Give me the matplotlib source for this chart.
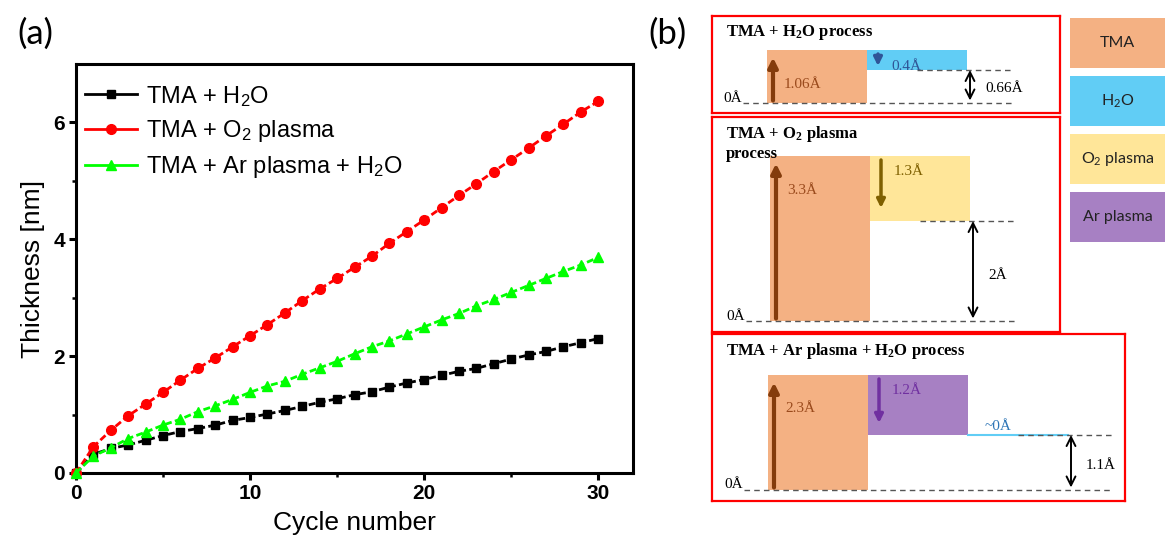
import matplotlib.pyplot as plt
from matplotlib.lines import Line2D

W, H = 1165, 539

# ---- panel (a) data: film thickness vs ALD cycle ----
cycles = list(range(31))
thick_h2o = [0, 0.32, 0.42, 0.48, 0.56, 0.64, 0.71, 0.76, 0.82, 0.90, 0.95,
             1.01, 1.07, 1.14, 1.21, 1.27, 1.34, 1.39, 1.47, 1.54, 1.60,
             1.67, 1.74, 1.79, 1.87, 1.95, 2.02, 2.08, 2.16, 2.23, 2.30]
thick_o2 = [0, 0.45, 0.73, 0.98, 1.18, 1.38, 1.59, 1.79, 1.97, 2.16, 2.35,
            2.54, 2.74, 2.95, 3.15, 3.33, 3.52, 3.71, 3.93, 4.13, 4.33,
            4.54, 4.75, 4.95, 5.16, 5.36, 5.56, 5.77, 5.97, 6.18, 6.36]
thick_ar = [0, 0.29, 0.43, 0.59, 0.70, 0.82, 0.92, 1.05, 1.15, 1.26, 1.38,
            1.49, 1.57, 1.69, 1.80, 1.91, 2.04, 2.16, 2.26, 2.38, 2.50,
            2.62, 2.73, 2.86, 2.97, 3.09, 3.21, 3.33, 3.45, 3.56, 3.69]
series_labels = ["TMA + H$\\mathregular{_2}$O",
                 "TMA + O$\\mathregular{_2}$ plasma",
                 "TMA + Ar plasma + H$\\mathregular{_2}$O"]

# ---- panel (b) data: growth per step (Angstrom) ----
box_titles = ["TMA + H$\\mathregular{_2}$O process",
              "TMA + O$\\mathregular{_2}$ plasma\nprocess",
              "TMA + Ar plasma + H$\\mathregular{_2}$O process"]
tma_gain = [1.06, 3.3, 2.3]
step2_loss = [0.4, 1.3, 1.2]
step2_kind = ["H2O", "O2", "Ar"]
has_step3 = [False, False, True]   # extra H2O step with ~0 change
net_gpc = [0.66, 2.0, 1.1]
key_names = ["TMA", "H$\\mathregular{_2}$O", "O$\\mathregular{_2}$ plasma", "Ar plasma"]

fill = {"TMA": "#F4B183", "H2O": "#61CDF5", "O2": "#FFE699", "Ar": "#A780C3"}
arrow_col = {"TMA": "#843C0C", "H2O": "#2F5597", "O2": "#7F6000", "Ar": "#7030A0"}
text_col = {"TMA": "#9A4A1C", "H2O": "#2F5597", "O2": "#7F6000", "Ar": "#7030A0"}

fig = plt.figure(figsize=(W / 100, H / 100), dpi=100)


def px_axes(x0, y0, x1, y1):
    return fig.add_axes([x0 / W, 1 - y1 / H, (x1 - x0) / W, (y1 - y0) / H])


# ================= panel (a) =================
ax = px_axes(76, 64, 633, 473)
sans = "Liberation Sans"
ax.plot(cycles, thick_h2o, color="black", marker="s", ms=6, lw=2,
        dashes=(2.5, 1.2), clip_on=False, zorder=3)
ax.plot(cycles, thick_o2, color="#FF0000", marker="o", ms=7, lw=2,
        dashes=(2.5, 1.2), clip_on=False, zorder=4)
ax.plot(cycles, thick_ar, color="#00FF00", marker="^", ms=7.5, lw=2,
        dashes=(2.5, 1.2), clip_on=False, zorder=5)
ax.set_xlim(0, 32)
ax.set_ylim(0, 7)
ax.set_xticks([0, 10, 20, 30])
ax.set_xticks([5, 15, 25], minor=True)
ax.set_yticks([0, 2, 4, 6])
ax.set_yticks([1, 3, 5], minor=True)
for s in ax.spines.values():
    s.set_linewidth(2.2)
ax.tick_params(which="major", direction="out", length=5, width=2.2,
               labelsize=15, pad=3)
ax.tick_params(which="minor", direction="out", length=3, width=1.8)
for lab in ax.get_xticklabels() + ax.get_yticklabels():
    lab.set_fontweight("bold")
    lab.set_fontfamily(sans)
ax.set_xlabel("Cycle number", fontsize=19, family=sans, labelpad=6)
ax.set_ylabel("Thickness [nm]", fontsize=19, family=sans, labelpad=6)

handles = [Line2D([0], [0], color="black", marker="s", ms=6, lw=2),
           Line2D([0], [0], color="#FF0000", marker="o", ms=7, lw=2),
           Line2D([0], [0], color="#00FF00", marker="^", ms=7.5, lw=2)]
ax.legend(handles, series_labels, loc="upper left", frameon=False,
          bbox_to_anchor=(0, 0.975),
          prop={"family": sans, "size": 17}, handlelength=2.2,
          handletextpad=0.35, labelspacing=0.42, borderaxespad=0.1,
          borderpad=0.3)

fig.text(35 / W, 1 - 34 / H, "(a)", fontsize=25, family="Lato",
         ha="center", va="center")
fig.text(668 / W, 1 - 34 / H, "(b)", fontsize=25, family="Lato",
         ha="center", va="center")

# ================= panel (b) =================
serif = "Liberation Serif"
box_px = [(712, 16, 1060, 113), (712, 117, 1060, 332), (712, 334, 1125, 501)]
base_px = [103, 321, 490]
col0_px = [767, 770, 768]

for i in range(3):
    x0, y0, x1, y1 = box_px[i]
    b = px_axes(x0, y0, x1, y1)
    b.set_xlim((x0 - col0_px[i]) / 100, (x1 - col0_px[i]) / 100)
    b.set_ylim(-(y1 - base_px[i]) / 50, (base_px[i] - y0) / 50)
    b.set_xticks([])
    b.set_yticks([])
    for s in b.spines.values():
        s.set_color("#FF0000")
        s.set_linewidth(1.6)

    tma = tma_gain[i]
    loss = step2_loss[i]
    kind = step2_kind[i]
    net = net_gpc[i]
    n = 3 if has_step3[i] else 2

    b.bar(0, tma, width=1, align="edge", color=fill["TMA"], zorder=1)
    b.bar(1, loss, bottom=tma - loss, width=1, align="edge",
          color=fill[kind], zorder=1)
    if has_step3[i]:
        b.plot([2, 3], [net, net], color=fill["H2O"], lw=1.5, zorder=2)
        b.text(2.17, net + 0.17, "~0Å", color="#2E75B6", family=serif,
               fontsize=11, va="center")

    # dashed reference levels
    b.plot([-0.24, n + 0.45], [0, 0], color="#555555", lw=1,
           dashes=(4, 3), zorder=2)
    b.plot([n - 0.5, n + 0.45], [net, net], color="#555555", lw=1,
           dashes=(4, 3), zorder=2)
    b.text(-0.44, -0.03, "0Å", family=serif, fontsize=11, va="bottom")

    # TMA growth arrow
    b.annotate("", xy=(0.06, tma - 0.15), xytext=(0.06, 0.05),
               arrowprops=dict(arrowstyle="-|>", lw=3, mutation_scale=14,
                               color=arrow_col["TMA"], shrinkA=0, shrinkB=0))
    b.text(0.17, tma - 0.68, f"{tma:g}Å", color=text_col["TMA"],
           family=serif, fontsize=11, va="center")

    # step-2 removal arrow
    b.annotate("", xy=(1.11, tma - 0.8 * loss), xytext=(1.11, tma - 0.08),
               arrowprops=dict(arrowstyle="-|>", lw=2.5, mutation_scale=12,
                               color=arrow_col[kind], shrinkA=0, shrinkB=0))
    b.text(1.24, tma - 0.32, f"{loss:g}Å", color=text_col[kind],
           family=serif, fontsize=11, va="center")

    # net growth double arrow
    ax_x = n + 0.03
    b.annotate("", xy=(ax_x, net), xytext=(ax_x, 0.05),
               arrowprops=dict(arrowstyle="<->", lw=1.4, mutation_scale=16,
                               color="black", shrinkA=0, shrinkB=0))
    b.text(ax_x + 0.15, net * 0.45, f"{net:g}Å", family=serif,
           fontsize=11, va="center")

    b.annotate(box_titles[i], xy=(0, 1), xycoords="axes fraction",
               xytext=(10, -5), textcoords="offset points", va="top",
               ha="left", family=serif, fontweight="bold", fontsize=12,
               linespacing=1.2)

# colour key
k = px_axes(1070, 18, 1165, 242)
kinds = ["TMA", "H2O", "O2", "Ar"]
k.barh(range(4), [1] * 4, height=50 / 58, left=0,
       color=[fill[x] for x in kinds])
for j, name in enumerate(key_names):
    k.text(0.5, j, name, ha="center", va="center", family="Lato",
           fontsize=11.5, color="#222222")
k.set_xlim(0, 1)
k.set_ylim(3 + 25 / 58, -25 / 58)
k.axis("off")

fig.savefig("out.png", dpi=100)
